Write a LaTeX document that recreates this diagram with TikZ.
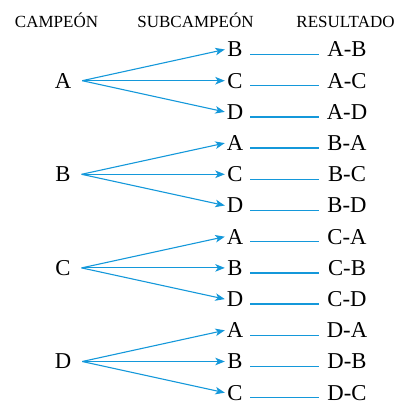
\documentclass[tikz,border=0pt]{standalone}
\usepackage{fontspec}
\setmainfont{Liberation Serif}
\usetikzlibrary{arrows.meta, positioning}

\definecolor{azul}{RGB}{20,152,218}

\tikzset{
	titulo/.style={font=\fontsize{17}{20}\selectfont, anchor=base},
	campeon/.style={font=\fontsize{22.7}{26}\selectfont, inner xsep=10.8pt, inner ysep=1pt},
	subcampeon/.style={font=\fontsize{22.7}{26}\selectfont, minimum width=20pt, inner xsep=0pt, inner ysep=1pt},
	resultado/.style={font=\fontsize{22.7}{26}\selectfont, minimum width=56pt, inner xsep=0pt, inner ysep=1pt},
	flecha/.style={draw=azul, line width=1.1pt, -{Stealth[length=9.5pt, width=7.5pt, inset=2.5pt]}},
	raya/.style={draw=azul, line width=1.3pt, shorten <=5pt}
}

\begin{document}
\begin{tikzpicture}[x=1pt, y=-1pt]
	\useasboundingbox (0,0) rectangle (398,406);

	% encabezados
	\node[titulo] (tcam) at (56.5,28) {CAMPEÓN};
	\node[titulo] (tsub) at (195.5,28) {SUBCAMPEÓN};
	\node[titulo] (tres) at (345.5,28) {RESULTADO};

	% campeones
	\node[campeon] (camA) at (63,80.7) {A};
	\node[campeon] (camB) at (63,174.3) {B};
	\node[campeon] (camC) at (63,267.9) {C};
	\node[campeon] (camD) at (63,361.5) {D};

	% subcampeones
	\node[subcampeon] (subAB) at (235,49.5) {B};
	\node[subcampeon] (subAC) at (235,80.7) {C};
	\node[subcampeon] (subAD) at (235,111.9) {D};
	\node[subcampeon] (subBA) at (235,143.1) {A};
	\node[subcampeon] (subBC) at (235,174.3) {C};
	\node[subcampeon] (subBD) at (235,205.5) {D};
	\node[subcampeon] (subCA) at (235,236.7) {A};
	\node[subcampeon] (subCB) at (235,267.9) {B};
	\node[subcampeon] (subCD) at (235,299.1) {D};
	\node[subcampeon] (subDA) at (235,330.3) {A};
	\node[subcampeon] (subDB) at (235,361.5) {B};
	\node[subcampeon] (subDC) at (235,392.7) {C};

	% resultados
	\node[resultado] (resAB) at (347,49.5) {A-B};
	\node[resultado] (resAC) at (347,80.7) {A-C};
	\node[resultado] (resAD) at (347,111.9) {A-D};
	\node[resultado] (resBA) at (347,143.1) {B-A};
	\node[resultado] (resBC) at (347,174.3) {B-C};
	\node[resultado] (resBD) at (347,205.5) {B-D};
	\node[resultado] (resCA) at (347,236.7) {C-A};
	\node[resultado] (resCB) at (347,267.9) {C-B};
	\node[resultado] (resCD) at (347,299.1) {C-D};
	\node[resultado] (resDA) at (347,330.3) {D-A};
	\node[resultado] (resDB) at (347,361.5) {D-B};
	\node[resultado] (resDC) at (347,392.7) {D-C};

	% flechas de campeon a subcampeon
	\draw[flecha] (camA.east) -- (subAB.west);
	\draw[flecha] (camA.east) -- (subAC.west);
	\draw[flecha] (camA.east) -- (subAD.west);
	\draw[flecha] (camB.east) -- (subBA.west);
	\draw[flecha] (camB.east) -- (subBC.west);
	\draw[flecha] (camB.east) -- (subBD.west);
	\draw[flecha] (camC.east) -- (subCA.west);
	\draw[flecha] (camC.east) -- (subCB.west);
	\draw[flecha] (camC.east) -- (subCD.west);
	\draw[flecha] (camD.east) -- (subDA.west);
	\draw[flecha] (camD.east) -- (subDB.west);
	\draw[flecha] (camD.east) -- (subDC.west);

	% rayas hacia el resultado (casi a la altura de la base de las letras)
	\draw[raya] ([yshift=-5pt]subAB.east) -- ([yshift=-5pt]resAB.west);
	\draw[raya] ([yshift=-5pt]subAC.east) -- ([yshift=-5pt]resAC.west);
	\draw[raya] ([yshift=-5pt]subAD.east) -- ([yshift=-5pt]resAD.west);
	\draw[raya] ([yshift=-5pt]subBA.east) -- ([yshift=-5pt]resBA.west);
	\draw[raya] ([yshift=-5pt]subBC.east) -- ([yshift=-5pt]resBC.west);
	\draw[raya] ([yshift=-5pt]subBD.east) -- ([yshift=-5pt]resBD.west);
	\draw[raya] ([yshift=-5pt]subCA.east) -- ([yshift=-5pt]resCA.west);
	\draw[raya] ([yshift=-5pt]subCB.east) -- ([yshift=-5pt]resCB.west);
	\draw[raya] ([yshift=-5pt]subCD.east) -- ([yshift=-5pt]resCD.west);
	\draw[raya] ([yshift=-5pt]subDA.east) -- ([yshift=-5pt]resDA.west);
	\draw[raya] ([yshift=-5pt]subDB.east) -- ([yshift=-5pt]resDB.west);
	\draw[raya] ([yshift=-5pt]subDC.east) -- ([yshift=-5pt]resDC.west);
\end{tikzpicture}
\end{document}
